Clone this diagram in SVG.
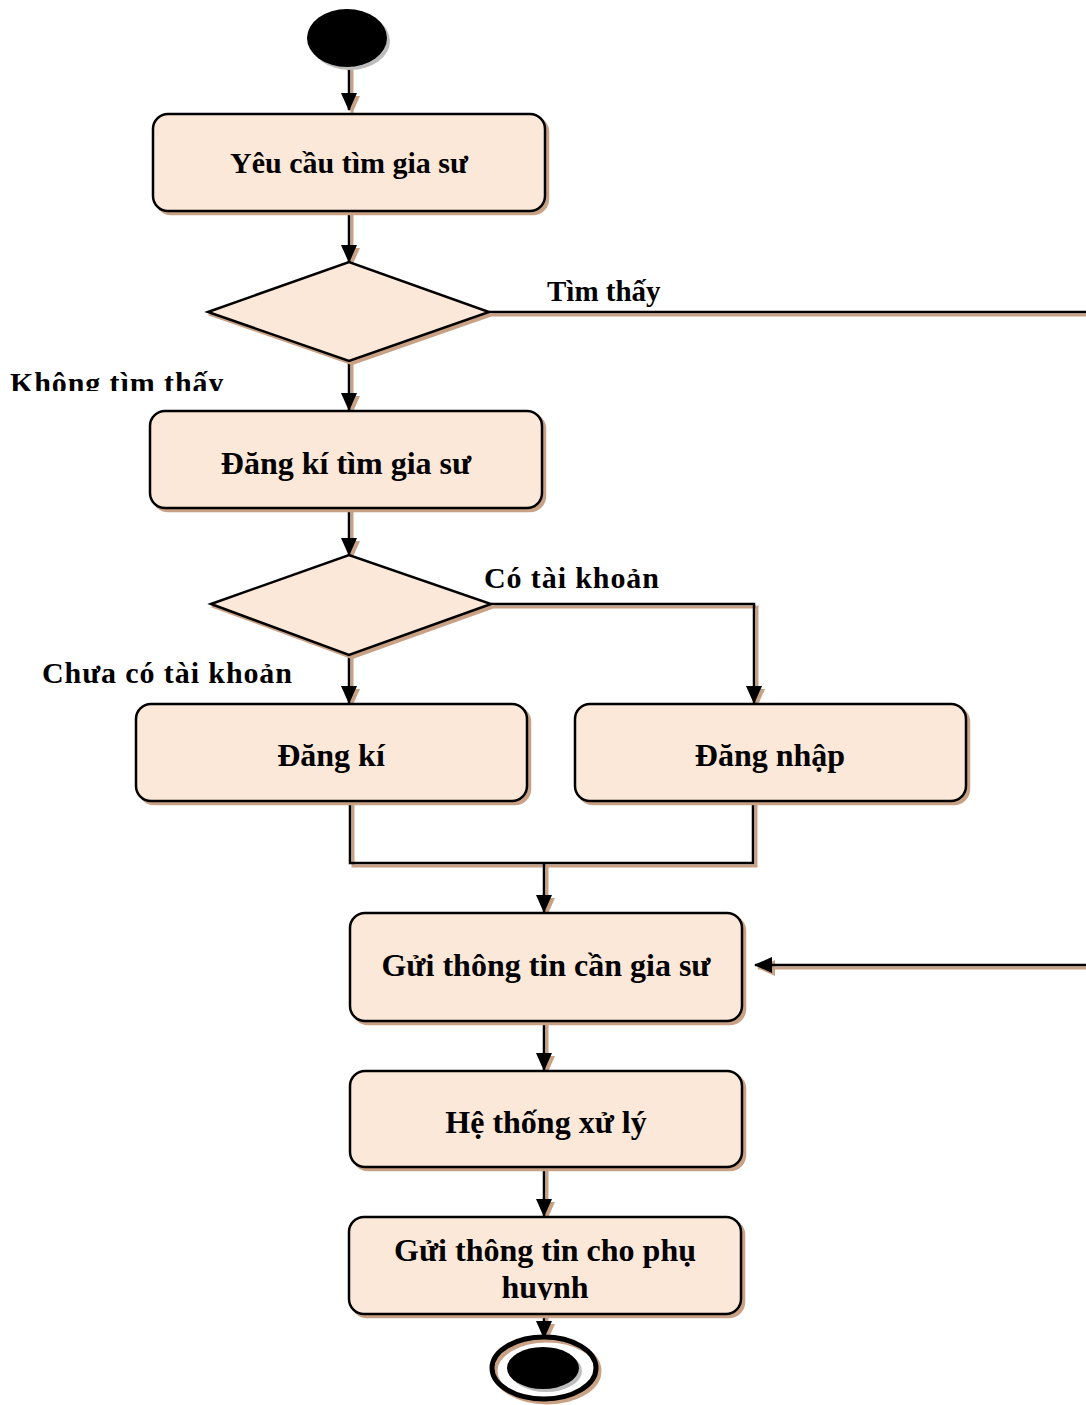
<svg xmlns="http://www.w3.org/2000/svg" width="1086" height="1405" viewBox="0 0 1086 1405">
<style>
.box{fill:#FCE8D9;stroke:#000;stroke-width:2.5}
.sh{fill:#C9A185;stroke:#C9A185;stroke-width:2.5}
.shl{fill:none;stroke:#C9A185;stroke-width:3}
.ln{fill:none;stroke:#000;stroke-width:2.5}
.t{font-family:"Liberation Serif","Times New Roman",serif;font-weight:bold;font-size:32px;text-anchor:middle;fill:#000}
.lb{font-family:"Liberation Serif","Times New Roman",serif;font-weight:bold;font-size:30px;letter-spacing:0.9px;fill:#000}
</style>
<defs>
<marker id="ah" markerWidth="18" markerHeight="16" refX="17" refY="8" orient="auto" markerUnits="userSpaceOnUse">
<path d="M0,0 L18,8 L0,16 Z" fill="#000"/>
</marker>
<marker id="ahs" markerWidth="18" markerHeight="16" refX="17" refY="8" orient="auto" markerUnits="userSpaceOnUse">
<path d="M0,0 L18,8 L0,16 Z" fill="#C9A185"/>
</marker>
<clipPath id="c1"><rect x="0" y="0" width="1086" height="391"/></clipPath>
<clipPath id="c2"><rect x="0" y="0" width="1086" height="588"/></clipPath>
<clipPath id="c3"><rect x="0" y="0" width="1086" height="683"/></clipPath>
<clipPath id="c4"><rect x="0" y="0" width="1086" height="1300"/></clipPath>
</defs>

<g id="connectors">
<g class="shl">
<path d="M352,68 V113" marker-end="url(#ahs)"/>
<path d="M352,214 V265" marker-end="url(#ahs)"/>
<path d="M492,315 H1086"/>
<path d="M352,364 V413" marker-end="url(#ahs)"/>
<path d="M352,511 V558" marker-end="url(#ahs)"/>
<path d="M494,607 H757 V706" marker-end="url(#ahs)"/>
<path d="M352,658 V706" marker-end="url(#ahs)"/>
<path d="M353,804 V866 H756 V804"/>
<path d="M547,866 V915" marker-end="url(#ahs)"/>
<path d="M1086,968 H758" marker-end="url(#ahs)"/>
<path d="M547,1024 V1073" marker-end="url(#ahs)"/>
<path d="M547,1170 V1219" marker-end="url(#ahs)"/>
<path d="M547,1317 V1341" marker-end="url(#ahs)"/>
</g>
<g class="ln">
<path d="M349,66 V110" marker-end="url(#ah)"/>
<path d="M349,211 V262" marker-end="url(#ah)"/>
<path d="M489,312 H1086"/>
<path d="M349,361 V410" marker-end="url(#ah)"/>
<path d="M349,508 V555" marker-end="url(#ah)"/>
<path d="M491,604 H754 V703" marker-end="url(#ah)"/>
<path d="M349,655 V703" marker-end="url(#ah)"/>
<path d="M350,801 V863 H753 V801"/>
<path d="M544,863 V912" marker-end="url(#ah)"/>
<path d="M1086,965 H755" marker-end="url(#ah)"/>
<path d="M544,1021 V1070" marker-end="url(#ah)"/>
<path d="M544,1167 V1216" marker-end="url(#ah)"/>
<path d="M544,1314 V1338" marker-end="url(#ah)"/>
</g>
</g>

<g id="start">
<ellipse cx="350" cy="41" rx="40" ry="29" fill="#BDBDBD"/>
<ellipse cx="347" cy="38" rx="40" ry="29" fill="#000"/>
</g>

<g id="n1">
<rect x="156" y="117" width="392" height="97" rx="15" class="sh"/>
<rect x="153" y="114" width="392" height="97" rx="15" class="box"/>
<text x="349" y="173" class="t" style="font-size:30px">Yêu cầu tìm gia sư</text>
</g>

<g id="d1">
<polygon points="211,315 352,265 492,315 352,364" class="sh"/>
<polygon points="208,312 349,262 489,312 349,361" class="box"/>
</g>

<text x="547" y="301" class="lb" style="letter-spacing:0;font-size:29px">Tìm thấy</text>
<text x="10" y="393" class="lb" clip-path="url(#c1)">Không tìm thấy</text>

<g id="n2">
<rect x="153" y="414" width="392" height="97" rx="15" class="sh"/>
<rect x="150" y="411" width="392" height="97" rx="15" class="box"/>
<text x="346" y="474" class="t">Đăng kí tìm gia sư</text>
</g>

<g id="d2">
<polygon points="214,607 352,558 494,607 352,658" class="sh"/>
<polygon points="211,604 349,555 491,604 349,655" class="box"/>
</g>

<text x="484" y="588" class="lb" clip-path="url(#c2)">Có tài khoản</text>
<text x="42" y="683" class="lb" clip-path="url(#c3)">Chưa có tài khoản</text>

<g id="n3">
<rect x="139" y="707" width="391" height="97" rx="15" class="sh"/>
<rect x="136" y="704" width="391" height="97" rx="15" class="box"/>
<text x="331" y="766" class="t">Đăng kí</text>
</g>

<g id="n4">
<rect x="578" y="707" width="391" height="97" rx="15" class="sh"/>
<rect x="575" y="704" width="391" height="97" rx="15" class="box"/>
<text x="770" y="766" class="t">Đăng nhập</text>
</g>

<g id="n5">
<rect x="353" y="916" width="392" height="108" rx="15" class="sh"/>
<rect x="350" y="913" width="392" height="108" rx="15" class="box"/>
<text x="546" y="976" class="t">Gửi thông tin cần gia sư</text>
</g>

<g id="n6">
<rect x="353" y="1074" width="392" height="96" rx="15" class="sh"/>
<rect x="350" y="1071" width="392" height="96" rx="15" class="box"/>
<text x="546" y="1133" class="t">Hệ thống xử lý</text>
</g>

<g id="n7">
<rect x="352" y="1220" width="392" height="97" rx="15" class="sh"/>
<rect x="349" y="1217" width="392" height="97" rx="15" class="box"/>
<text x="545" y="1261" class="t">Gửi thông tin cho phụ</text>
<text x="545" y="1298" class="t" clip-path="url(#c4)">huynh</text>
</g>

<g id="end">
<ellipse cx="547" cy="1371" rx="52" ry="31" fill="none" stroke="#C9A185" stroke-width="5"/>
<ellipse cx="544" cy="1368" rx="52" ry="31" fill="none" stroke="#000" stroke-width="5"/>
<ellipse cx="546" cy="1371" rx="36" ry="21" fill="#BDBDBD"/>
<ellipse cx="543" cy="1368" rx="36" ry="21" fill="#000"/>
</g>
</svg>
